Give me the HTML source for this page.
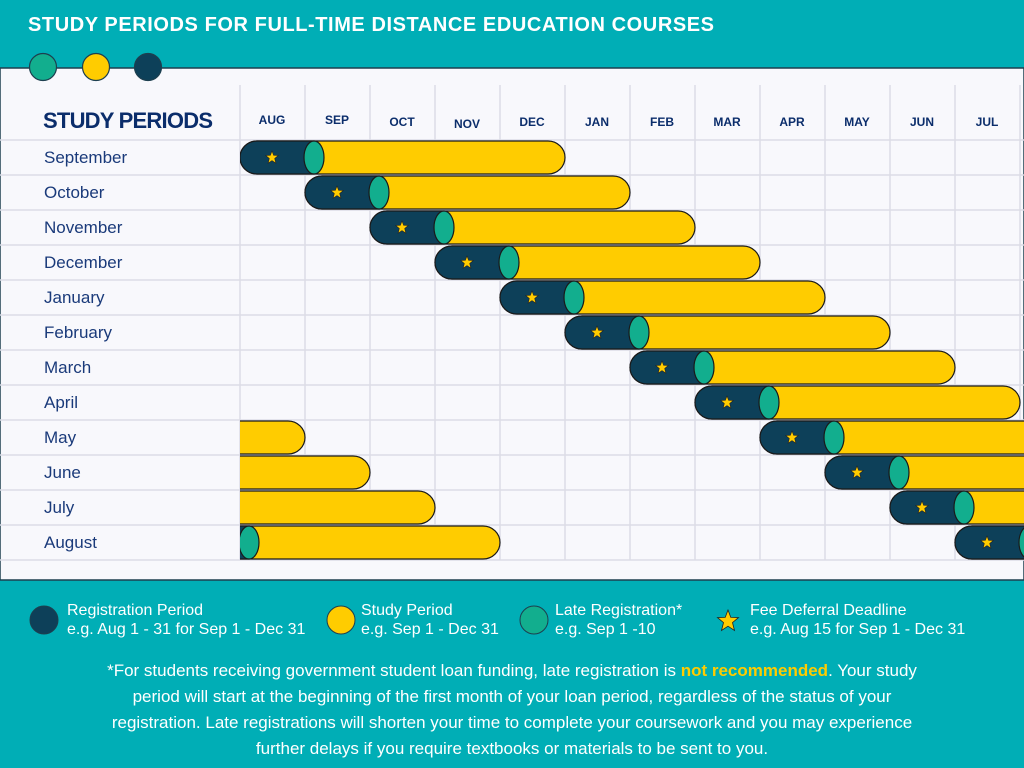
<!DOCTYPE html>
<html><head><meta charset="utf-8"><style>html,body{margin:0;padding:0;background:#00AEB6}svg{display:block}</style></head><body>
<svg width="1024" height="768" viewBox="0 0 1024 768" xmlns="http://www.w3.org/2000/svg" xmlns:xlink="http://www.w3.org/1999/xlink" font-family="Liberation Sans, sans-serif">
<defs>
<clipPath id="c"><rect x="240" y="0" width="784" height="768"/></clipPath>
<polygon id="s" points="0,-6.5 1.7,-2.2 6.3,-2 2.7,1 3.9,5.7 0,3.1 -3.9,5.7 -2.7,1 -6.3,-2 -1.7,-2.2" fill="#FFCC00" stroke="#222" stroke-width="0.6"/>
<polygon id="sb" points="0,-11 2.8,-3.6 10.5,-3.4 4.5,1.6 6.5,9.5 0,5.2 -6.5,9.5 -4.5,1.6 -10.5,-3.4 -2.8,-3.6" fill="#FFCC00" stroke="#222" stroke-width="0.8"/>
</defs>
<rect width="1024" height="768" fill="#00AEB6"/>
<text x="28" y="31" font-size="20" font-weight="bold" fill="#fff" textLength="686">STUDY PERIODS FOR FULL-TIME DISTANCE EDUCATION COURSES</text>
<rect x="0" y="68" width="1024" height="512" fill="#F8F8FC" stroke="#1d3f4f" stroke-width="1.5"/>
<g stroke="#DCDCE6" stroke-width="1.5">
<line x1="240" y1="85" x2="240" y2="560"/><line x1="305" y1="85" x2="305" y2="560"/><line x1="370" y1="85" x2="370" y2="560"/><line x1="435" y1="85" x2="435" y2="560"/><line x1="500" y1="85" x2="500" y2="560"/><line x1="565" y1="85" x2="565" y2="560"/><line x1="630" y1="85" x2="630" y2="560"/><line x1="695" y1="85" x2="695" y2="560"/><line x1="760" y1="85" x2="760" y2="560"/><line x1="825" y1="85" x2="825" y2="560"/><line x1="890" y1="85" x2="890" y2="560"/><line x1="955" y1="85" x2="955" y2="560"/><line x1="1020" y1="85" x2="1020" y2="560"/>
<line x1="0" y1="140" x2="1024" y2="140"/><line x1="0" y1="175" x2="1024" y2="175"/><line x1="0" y1="210" x2="1024" y2="210"/><line x1="0" y1="245" x2="1024" y2="245"/><line x1="0" y1="280" x2="1024" y2="280"/><line x1="0" y1="315" x2="1024" y2="315"/><line x1="0" y1="350" x2="1024" y2="350"/><line x1="0" y1="385" x2="1024" y2="385"/><line x1="0" y1="420" x2="1024" y2="420"/><line x1="0" y1="455" x2="1024" y2="455"/><line x1="0" y1="490" x2="1024" y2="490"/><line x1="0" y1="525" x2="1024" y2="525"/><line x1="0" y1="560" x2="1024" y2="560"/>
</g>
<circle cx="43" cy="67" r="13.5" fill="#12AE8E" stroke="#1d3f4f" stroke-width="1.2"/>
<circle cx="96" cy="67" r="13.5" fill="#FFCC00" stroke="#1d3f4f" stroke-width="1.2"/>
<circle cx="148" cy="67" r="13.5" fill="#0D4059" stroke="#1d3f4f" stroke-width="1.2"/>
<text x="43" y="128" font-size="22" font-weight="bold" fill="#0B2D6B" textLength="170">STUDY PERIODS</text>
<g font-size="12" font-weight="bold" fill="#0B2D6B" text-anchor="middle">
<text x="272" y="124">AUG</text><text x="337" y="124">SEP</text><text x="402" y="126">OCT</text><text x="467" y="128">NOV</text><text x="532" y="126">DEC</text><text x="597" y="126">JAN</text><text x="662" y="126">FEB</text><text x="727" y="126">MAR</text><text x="792" y="126">APR</text><text x="857" y="126">MAY</text><text x="922" y="126">JUN</text><text x="987" y="126">JUL</text>
</g>
<g font-size="17" fill="#1A3A7A">
<text x="44" y="163">September</text><text x="44" y="198">October</text><text x="44" y="233">November</text><text x="44" y="268">December</text><text x="44" y="303">January</text><text x="44" y="338">February</text><text x="44" y="373">March</text><text x="44" y="408">April</text><text x="44" y="443">May</text><text x="44" y="478">June</text><text x="44" y="513">July</text><text x="44" y="548">August</text>
</g>
<g clip-path="url(#c)" stroke="#1a1a1a" stroke-width="1.2">
<!-- wrap tails -->
<rect x="-20" y="421" width="325" height="33" rx="17" fill="#FFCC00"/>
<rect x="45" y="456" width="325" height="33" rx="17" fill="#FFCC00"/>
<rect x="110" y="491" width="325" height="33" rx="17" fill="#FFCC00"/>
<rect x="175" y="526" width="325" height="33" rx="17" fill="#FFCC00"/>
<path d="M249 526 H192 A17 16.5 0 0 0 192 559 H249 Z" fill="#0D4059"/>
<ellipse cx="249" cy="542.5" rx="10" ry="16.5" fill="#12AE8E"/>
<!-- main bars -->
<rect x="240" y="141" width="325" height="33" rx="17" fill="#FFCC00"/><path d="M314 141 H257 A17 16.5 0 0 0 257 174 H314 Z" fill="#0D4059"/><ellipse cx="314" cy="157.5" rx="10" ry="16.5" fill="#12AE8E"/>
<rect x="305" y="176" width="325" height="33" rx="17" fill="#FFCC00"/><path d="M379 176 H322 A17 16.5 0 0 0 322 209 H379 Z" fill="#0D4059"/><ellipse cx="379" cy="192.5" rx="10" ry="16.5" fill="#12AE8E"/>
<rect x="370" y="211" width="325" height="33" rx="17" fill="#FFCC00"/><path d="M444 211 H387 A17 16.5 0 0 0 387 244 H444 Z" fill="#0D4059"/><ellipse cx="444" cy="227.5" rx="10" ry="16.5" fill="#12AE8E"/>
<rect x="435" y="246" width="325" height="33" rx="17" fill="#FFCC00"/><path d="M509 246 H452 A17 16.5 0 0 0 452 279 H509 Z" fill="#0D4059"/><ellipse cx="509" cy="262.5" rx="10" ry="16.5" fill="#12AE8E"/>
<rect x="500" y="281" width="325" height="33" rx="17" fill="#FFCC00"/><path d="M574 281 H517 A17 16.5 0 0 0 517 314 H574 Z" fill="#0D4059"/><ellipse cx="574" cy="297.5" rx="10" ry="16.5" fill="#12AE8E"/>
<rect x="565" y="316" width="325" height="33" rx="17" fill="#FFCC00"/><path d="M639 316 H582 A17 16.5 0 0 0 582 349 H639 Z" fill="#0D4059"/><ellipse cx="639" cy="332.5" rx="10" ry="16.5" fill="#12AE8E"/>
<rect x="630" y="351" width="325" height="33" rx="17" fill="#FFCC00"/><path d="M704 351 H647 A17 16.5 0 0 0 647 384 H704 Z" fill="#0D4059"/><ellipse cx="704" cy="367.5" rx="10" ry="16.5" fill="#12AE8E"/>
<rect x="695" y="386" width="325" height="33" rx="17" fill="#FFCC00"/><path d="M769 386 H712 A17 16.5 0 0 0 712 419 H769 Z" fill="#0D4059"/><ellipse cx="769" cy="402.5" rx="10" ry="16.5" fill="#12AE8E"/>
<rect x="760" y="421" width="325" height="33" rx="17" fill="#FFCC00"/><path d="M834 421 H777 A17 16.5 0 0 0 777 454 H834 Z" fill="#0D4059"/><ellipse cx="834" cy="437.5" rx="10" ry="16.5" fill="#12AE8E"/>
<rect x="825" y="456" width="325" height="33" rx="17" fill="#FFCC00"/><path d="M899 456 H842 A17 16.5 0 0 0 842 489 H899 Z" fill="#0D4059"/><ellipse cx="899" cy="472.5" rx="10" ry="16.5" fill="#12AE8E"/>
<rect x="890" y="491" width="325" height="33" rx="17" fill="#FFCC00"/><path d="M964 491 H907 A17 16.5 0 0 0 907 524 H964 Z" fill="#0D4059"/><ellipse cx="964" cy="507.5" rx="10" ry="16.5" fill="#12AE8E"/>
<rect x="955" y="526" width="325" height="33" rx="17" fill="#FFCC00"/><path d="M1029 526 H972 A17 16.5 0 0 0 972 559 H1029 Z" fill="#0D4059"/><ellipse cx="1029" cy="542.5" rx="10" ry="16.5" fill="#12AE8E"/>
</g>
<g>
<use xlink:href="#s" href="#s" x="272" y="157.5"/>
<use xlink:href="#s" href="#s" x="337" y="192.5"/>
<use xlink:href="#s" href="#s" x="402" y="227.5"/>
<use xlink:href="#s" href="#s" x="467" y="262.5"/>
<use xlink:href="#s" href="#s" x="532" y="297.5"/>
<use xlink:href="#s" href="#s" x="597" y="332.5"/>
<use xlink:href="#s" href="#s" x="662" y="367.5"/>
<use xlink:href="#s" href="#s" x="727" y="402.5"/>
<use xlink:href="#s" href="#s" x="792" y="437.5"/>
<use xlink:href="#s" href="#s" x="857" y="472.5"/>
<use xlink:href="#s" href="#s" x="922" y="507.5"/>
<use xlink:href="#s" href="#s" x="987" y="542.5"/>
</g>
<g font-size="16" fill="#fff">
<circle cx="44" cy="620" r="14" fill="#0D4059" stroke="#1d3f4f"/>
<text x="67" y="615">Registration Period</text><text x="67" y="634">e.g. Aug 1 - 31 for Sep 1 - Dec 31</text>
<circle cx="341" cy="620" r="14" fill="#FFCC00" stroke="#1d3f4f"/>
<text x="361" y="615">Study Period</text><text x="361" y="634">e.g. Sep 1 - Dec 31</text>
<circle cx="534" cy="620" r="14" fill="#12AE8E" stroke="#1d3f4f"/>
<text x="555" y="615">Late Registration*</text><text x="555" y="634">e.g. Sep 1 -10</text>
<use xlink:href="#sb" href="#sb" x="728" y="621"/>
<text x="750" y="615">Fee Deferral Deadline</text><text x="750" y="634">e.g. Aug 15 for Sep 1 - Dec 31</text>
</g>
<g font-size="17" fill="#fff" text-anchor="middle">
<text x="512" y="676">*For students receiving government student loan funding, late registration is <tspan fill="#FFCC00" font-weight="bold">not recommended</tspan>. Your study</text>
<text x="512" y="702">period will start at the beginning of the first month of your loan period, regardless of the status of your</text>
<text x="512" y="728">registration. Late registrations will shorten your time to complete your coursework and you may experience</text>
<text x="512" y="754">further delays if you require textbooks or materials to be sent to you.</text>
</g>
</svg>
</body></html>
